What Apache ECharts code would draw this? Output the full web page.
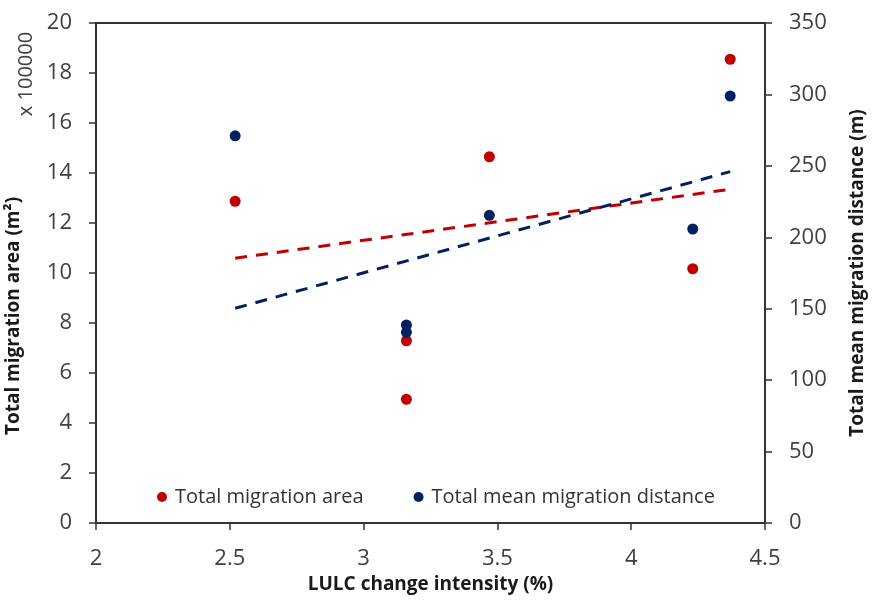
<!DOCTYPE html>
<html>
<head>
<meta charset="utf-8">
<script src="https://cdn.jsdelivr.net/npm/echarts@6/dist/echarts.min.js"></script>
<style>
  html, body { margin: 0; padding: 0; background: #fff; }
  #chart { width: 875px; height: 607px; }
</style>
</head>
<body>
<div id="chart"></div>
<script>
// LULC change intensity (%)
const intensity = [2.52, 3.16, 3.16, 3.47, 4.23, 4.37]
// total migration area, x 100000 m2
const migrationArea = [12.87, 7.29, 4.95, 14.65, 10.17, 18.55]
// total mean migration distance, m
const migrationDistance = [271, 138.6, 133.5, 215.4, 205.8, 298.9]
// dashed trend lines (start / end)
const trendX = [2.52, 4.37]
const areaTrend = [10.59, 13.35]
const distanceTrend = [150.3, 246]

const xTicks = { min: 2, max: 4.5, interval: 0.5 }
const leftTicks = { min: 0, max: 20, interval: 2 }
const rightTicks = { min: 0, max: 350, interval: 50 }

const RED = '#C00000'
const NAVY = '#002060'
const AXIS = '#333333'
const FONT = '"Open Sans", sans-serif'

const pairs = (xs, ys) => xs.map((x, i) => [x, ys[i]])

const chart = echarts.init(document.getElementById('chart'))

const axisCommon = {
  axisLine: { show: true, lineStyle: { color: AXIS, width: 2 } },
  axisTick: { show: true, inside: false, length: 7, lineStyle: { color: AXIS, width: 1.5 } },
  axisLabel: { color: '#404040', fontSize: 22, fontFamily: FONT },
  splitLine: { show: false }
}

chart.setOption({
  animation: false,
  backgroundColor: '#fff',
  grid: {
    left: 96, right: 100, top: 23, bottom: 84,
    show: true, borderColor: AXIS, borderWidth: 2,
    containLabel: false
  },
  legend: {
    data: ['Total migration area', 'Total mean migration distance'],
    left: 152,
    top: 482,
    icon: 'circle',
    itemWidth: 16,
    itemHeight: 10,
    itemGap: 50,
    textStyle: { color: '#333', fontSize: 20, fontFamily: FONT }
  },
  xAxis: {
    type: 'value',
    ...xTicks,
    ...axisCommon,
    axisLabel: { ...axisCommon.axisLabel, margin: 25 },
    name: 'LULC change intensity (%)',
    nameLocation: 'middle',
    nameGap: 47,
    nameTextStyle: { color: '#1a1a1a', fontSize: 19, fontWeight: 'bold', fontFamily: FONT }
  },
  yAxis: [
    {
      type: 'value',
      position: 'left',
      ...leftTicks,
      ...axisCommon,
      axisLabel: { ...axisCommon.axisLabel, margin: 24 }
    },
    {
      type: 'value',
      position: 'right',
      ...rightTicks,
      ...axisCommon,
      axisLabel: { ...axisCommon.axisLabel, margin: 24 },
      name: 'Total mean migration distance (m)',
      nameLocation: 'middle',
      nameRotate: 90,
      nameGap: 83,
      nameTextStyle: { color: '#1a1a1a', fontSize: 19, fontWeight: 'bold', fontFamily: FONT }
    }
  ],
  graphic: [
    {
      type: 'text',
      x: 14, y: 316,
      rotation: Math.PI / 2,
      style: {
        text: 'Total migration area (m²)',
        fill: '#1a1a1a',
        font: 'bold 19px "Open Sans", sans-serif',
        align: 'center',
        verticalAlign: 'middle'
      }
    },
    {
      type: 'text',
      x: 26, y: 74,
      rotation: Math.PI / 2,
      style: {
        text: 'x 100000',
        fill: '#404040',
        font: '20px "Open Sans", sans-serif',
        align: 'center',
        verticalAlign: 'middle'
      }
    }
  ],
  series: [
    {
      name: 'Total migration area',
      type: 'scatter',
      yAxisIndex: 0,
      symbolSize: 11,
      itemStyle: { color: RED, opacity: 1 },
      data: pairs(intensity, migrationArea),
      z: 3
    },
    {
      name: 'Total mean migration distance',
      type: 'scatter',
      yAxisIndex: 1,
      symbolSize: 11,
      itemStyle: { color: NAVY, opacity: 1 },
      data: pairs(intensity, migrationDistance),
      z: 3
    },
    {
      name: 'area trend',
      type: 'line',
      yAxisIndex: 0,
      showSymbol: false,
      symbol: 'none',
      lineStyle: { color: RED, width: 3, type: [12, 9] },
      data: pairs(trendX, areaTrend),
      z: 2
    },
    {
      name: 'distance trend',
      type: 'line',
      yAxisIndex: 1,
      showSymbol: false,
      symbol: 'none',
      lineStyle: { color: NAVY, width: 3, type: [12, 9] },
      data: pairs(trendX, distanceTrend),
      z: 2
    }
  ]
})

window.addEventListener('resize', () => chart.resize())
</script>
</body>
</html>
